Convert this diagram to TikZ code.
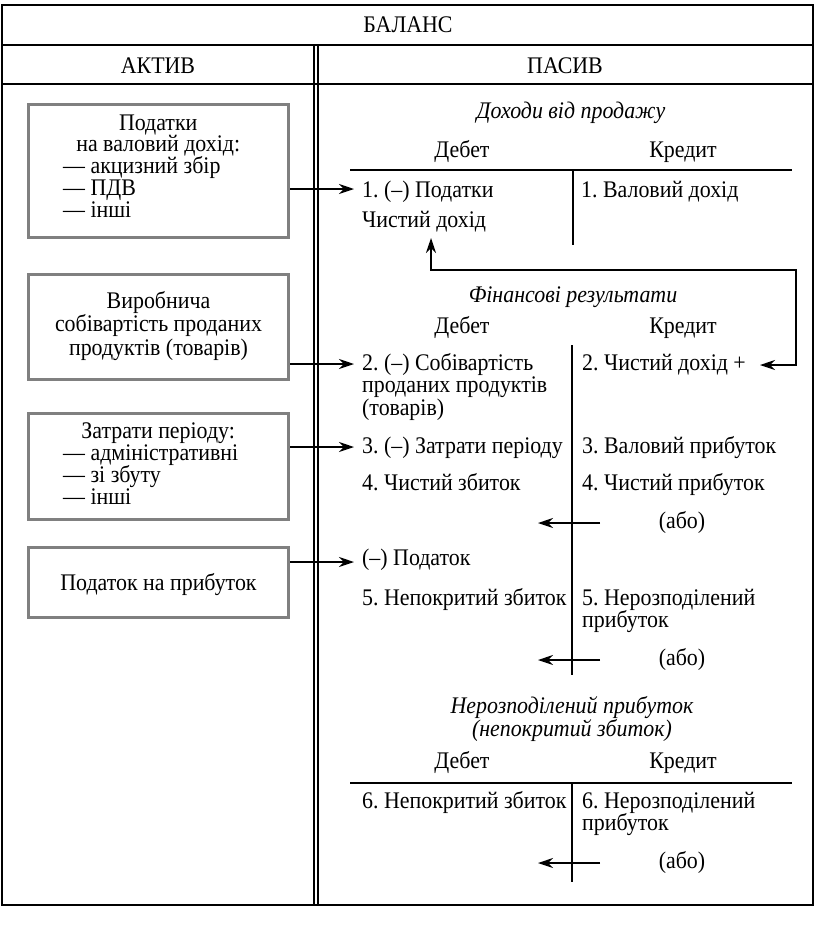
\documentclass[tikz,border=0pt]{standalone}
\usepackage{fontspec}
\setmainfont[FakeStretch=0.92]{Liberation Serif}
\usetikzlibrary{arrows.meta}
\begin{document}
\frenchspacing
\begin{tikzpicture}[x=1pt,y=-1pt,
  frame/.style={line width=1.6pt,black},
  tline/.style={line width=1.5pt,black},
  gbox/.style={draw=black!50,line width=3pt,minimum width=260pt,inner sep=0pt},
  txt/.style={inner sep=0pt,anchor=base west,font=\fontsize{23.8}{22.5}\selectfont},
  ctxt/.style={inner sep=0pt,anchor=base,font=\fontsize{23.8}{22.5}\selectfont},
  ttl/.style={inner sep=0pt,anchor=base,font=\fontsize{23.8}{22}\selectfont\itshape},
  arr/.style={line width=1.5pt,-{Stealth[length=15pt,width=10pt,inset=5pt]}},
  darr/.style={line width=1.5pt,{Stealth[length=15pt,width=10pt,inset=5pt]}-{Stealth[length=15pt,width=10pt,inset=5pt]}}
]
\useasboundingbox (0,0) rectangle (816,940);
% frame
\draw[frame] (2,5) rectangle (813,905);
\draw[frame] (2,45) -- (813,45);
\draw[frame] (2,84) -- (813,84);
\draw[frame] (314,45) -- (314,905);
\draw[frame] (318,45) -- (318,905);
\node[ctxt] (bal) at (408,32) {БАЛАНС};
\node[ctxt] (akt) at (158,73) {АКТИВ};
\node[ctxt] (pas) at (565,73) {ПАСИВ};
% boxes
\node[gbox,minimum height=133pt] (box1) at (158.5,170.5) {};
\node[txt] (box1t) at (63,130) {\parbox[t]{190pt}{\baselineskip=21.8pt\centering Податки\\на валовий дохід:\par\raggedright — акцизний збір\\— ПДВ\\— інші}};
\node[gbox,minimum height=105pt] (box2) at (158.5,326.5) {};
\node[ctxt] (box2t) at (158.5,308) {\parbox[t]{263pt}{\baselineskip=23.5pt\centering Виробнича\\собівартість проданих\\продуктів (товарів)}};
\node[gbox,minimum height=106pt] (box3) at (158.5,466) {};
\node[txt] (box3t) at (63,438) {\parbox[t]{190pt}{\baselineskip=22.3pt\centering Затрати періоду:\par\raggedright — адміністративні\\— зі збуту\\— інші}};
\node[gbox,minimum height=70pt] (box4) at (158.5,582) {};
\node[ctxt] (box4t) at (158.5,590) {Податок на прибуток};
% account 1
\node[ttl] (h1) at (571,118) {Доходи від продажу};
\node[ctxt] (d1) at (462,157) {Дебет};
\node[ctxt] (k1) at (683,157) {Кредит};
\draw[tline] (350,170) -- (792,170);
\draw[tline] (573,170) -- (573,245);
\node[txt] (t1) at (362,197) {1. (–) Податки};
\node[txt] (tcd) at (362,227) {Чистий дохід};
\node[txt] (c1) at (581,197) {1. Валовий дохід};
% account 2
\node[ttl] (h2) at (573,302) {Фінансові результати};
\node[ctxt] (d2) at (462,333) {Дебет};
\node[ctxt] (k2) at (683,333) {Кредит};
\draw[tline] (572,345) -- (572,675);
\node[txt] (t2) at (362,370) {\parbox[t]{210pt}{\baselineskip=22.5pt 2. (–) Собівартість\\проданих продуктів\\(товарів)}};
\node[txt] (c2) at (582,370) {2. Чистий дохід +};
\node[txt] (t3) at (362,453) {3. (–) Затрати періоду};
\node[txt] (c3) at (582,453) {3. Валовий прибуток};
\node[txt] (t4) at (362,490) {4. Чистий збиток};
\node[txt] (c4) at (582,490) {4. Чистий прибуток};
\node[ctxt] (abo1) at (682,528) {(або)};
\node[txt] (t5a) at (362,565) {(–) Податок};
\node[txt] (t5) at (362,605) {5. Непокритий збиток};
\node[txt] (c5) at (582,605) {\parbox[t]{220pt}{\baselineskip=22.5pt 5. Нерозподілений\\прибуток}};
\node[ctxt] (abo2) at (682,665) {(або)};
% account 3
\node[ttl] (h3) at (572,713) {\parbox[t]{400pt}{\baselineskip=21pt\centering Нерозподілений прибуток\\(непокритий збиток)}};
\node[ctxt] (d3) at (462,768) {Дебет};
\node[ctxt] (k3) at (683,768) {Кредит};
\draw[tline] (350,783) -- (792,783);
\draw[tline] (572,783) -- (572,882);
\node[txt] (t6) at (362,808) {6. Непокритий збиток};
\node[txt] (c6) at (582,808) {\parbox[t]{220pt}{\baselineskip=22.5pt 6. Нерозподілений\\прибуток}};
\node[ctxt] (abo3) at (682,868) {(або)};
% arrows from boxes
\coordinate (a1) at (354,189);
\coordinate (a2) at (354,364);
\coordinate (a3) at (354,447);
\coordinate (a4) at (354,562);
\draw[arr] (box1.east |- a1) -- (a1);
\draw[arr] (box2.east |- a2) -- (a2);
\draw[arr] (box3.east |- a3) -- (a3);
\draw[arr] (box4.east |- a4) -- (a4);
% feedback arrow
\coordinate (fb1) at (431,238);
\coordinate (fb2) at (760,365);
\draw[darr] (fb1) -- (431,270) -- (796,270) -- (796,365) -- (fb2);
% left arrows
\coordinate (l1s) at (600,523); \coordinate (l1e) at (538,523);
\coordinate (l2s) at (600,660); \coordinate (l2e) at (538,660);
\coordinate (l3s) at (600,863); \coordinate (l3e) at (538,863);
\draw[arr] (l1s) -- (l1e);
\draw[arr] (l2s) -- (l2e);
\draw[arr] (l3s) -- (l3e);
\end{tikzpicture}
\end{document}
